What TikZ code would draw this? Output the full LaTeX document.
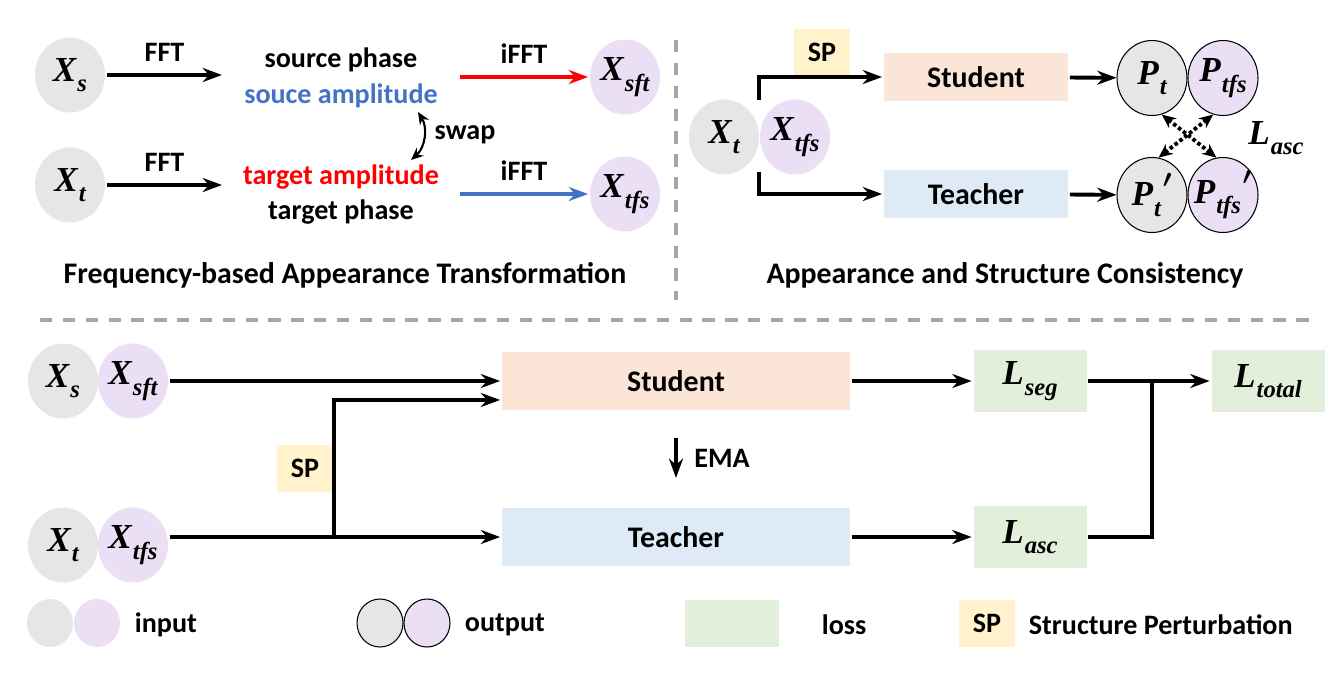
\documentclass[tikz,border=0pt]{standalone}
\usepackage{fontspec}
\setmainfont{Carlito}
\newfontfamily\symfont{Liberation Serif}
\usetikzlibrary{shapes.geometric,arrows.meta}
\definecolor{ingray}{HTML}{E6E6E6}
\definecolor{inpurple}{HTML}{EADFF5}
\definecolor{studfill}{HTML}{FBE5D6}
\definecolor{teachfill}{HTML}{DEEBF7}
\definecolor{lossfill}{HTML}{E2EFDA}
\definecolor{spfill}{HTML}{FFF2CC}
\definecolor{ampblue}{HTML}{4472C4}
\definecolor{sepgray}{HTML}{A6A6A6}
\newcommand{\sym}[2]{{\symfont\bfseries\itshape #1\kern0.03em\raisebox{-0.3em}{\fontsize{14}{14}\selectfont #2}}}
\newcommand{\symp}[2]{\makebox[0pt]{\symfont\bfseries\itshape #1\kern0.03em\raisebox{-0.3em}{\fontsize{14}{14}\selectfont #2}\kern0.05em\raisebox{0.15em}{\ensuremath{^{\boldsymbol{\prime}}}}}}
\usepackage{amsmath}
\begin{document}
\begin{tikzpicture}[x=0.02cm, y=-0.02cm, >={Stealth[length=11pt,width=8pt]}, line width=2.2pt,
  every node/.style={font=\bfseries\fontsize{16}{19}\selectfont},
  in node/.style={ellipse, minimum width=1.4cm, minimum height=1.5cm, inner sep=0pt, font=\fontsize{20}{24}\selectfont},
  out node/.style={in node, draw, line width=0.6pt},
  box/.style={rectangle, inner sep=0pt, minimum width=3.68cm, minimum height=0.96cm, font=\bfseries\fontsize{17}{20}\selectfont},
  loss box/.style={rectangle, fill=lossfill, inner sep=0pt, minimum width=2.26cm, minimum height=1.24cm, font=\fontsize{20}{24}\selectfont},
  sp box/.style={rectangle, fill=spfill, inner sep=0pt, minimum width=1.12cm, minimum height=0.94cm},
  sep/.style={sepgray, line width=2.5pt, dash pattern=on 7pt off 6pt}]
\useasboundingbox (0,0) rectangle (1339,677);

% frequency-based appearance transformation
\node[in node, fill=ingray] (xs) at (70,75) {\sym{X}{s}};
\node[in node, fill=ingray] (xt) at (70,185) {\sym{X}{t}};
\node (sphase) at (341,60) {source phase};
\node[text=ampblue] (samp) at (341,96) {souce amplitude};
\node[text=red] (tamp) at (341,177) {target amplitude};
\node (tphase) at (341,212) {target phase};
\node[in node, fill=inpurple] (xsft) at (625,77) {\sym{X}{sft}};
\node[in node, fill=inpurple] (xtfs) at (625,194) {\sym{X}{tfs}};
\coordinate (f1) at (222,75);
\coordinate (f2) at (222,185);
\coordinate (i1) at (460,77);
\coordinate (i2) at (460,194);
\draw[->] (xs) -- node[above=3pt] {FFT} (f1);
\draw[->] (xt) -- node[above=3pt] {FFT} (f2);
\draw[->, red] (i1) -- node[above=3pt, text=black] {iFFT} (xsft);
\draw[->, ampblue] (i2) -- node[above=3pt, text=black] {iFFT} (xtfs);
\coordinate (sw1) at (418,112);
\coordinate (sw2) at (411,160);
\draw[<->, >={Stealth[length=7pt,width=6pt]}, line width=1.2pt] (sw1) to[bend left=40] (sw2);
\node (swap) at (465,135) {swap};
\node (fat) at (345,275) {\fontsize{17}{20}\selectfont Frequency-based Appearance Transformation};

\draw[sep] (676,40) -- (676,300);
\draw[sep] (40,320) -- (1310,320);

% appearance and structure consistency
\node[in node, fill=ingray] (xt2) at (724,137) {\sym{X}{t}};
\node[in node, fill=inpurple] (xtfs2) at (795,137) {\sym{X}{tfs}};
\node[sp box] (sp1) at (822,52) {SP};
\node[box, fill=studfill] (stud1) at (976,77) {Student};
\node[box, fill=teachfill] (teach1) at (976,194) {Teacher};
\node[out node, fill=ingray] (pt) at (1152,78) {\sym{P}{t}};
\node[out node, fill=inpurple] (ptfs) at (1223,78) {\sym{P}{tfs}};
\node[out node, fill=ingray] (ptp) at (1152,195) {\symp{P}{t}};
\node[out node, fill=inpurple] (ptfsp) at (1223,195) {\symp{P}{tfs}};
\coordinate (up1) at (759,100);
\coordinate (dn1) at (759,172);
\draw[->] (up1) |- (stud1);
\draw[->] (dn1) |- (teach1);
\draw[->] (stud1) -- (pt);
\draw[->] (teach1) -- (ptp);
\draw[<->, >={Stealth[length=8pt,width=7pt]}, dash pattern=on 2pt off 1.5pt, line width=2.2pt] (pt.-75) -- (ptfsp.100);
\draw[<->, >={Stealth[length=8pt,width=7pt]}, dash pattern=on 2pt off 1.5pt, line width=2.2pt] (ptfs.-105) -- (ptp.80);
\node[font=\fontsize{20}{24}\selectfont] (lasc1) at (1276,138) {\sym{L}{asc}};
\node (asc) at (1005,275) {\fontsize{17}{20}\selectfont Appearance and Structure Consistency};

% training pipeline
\node[in node, fill=ingray] (xs3) at (63,381) {\sym{X}{s}};
\node[in node, fill=inpurple] (xsft3) at (133,381) {\sym{X}{sft}};
\node[in node, fill=ingray] (xt3) at (63,545) {\sym{X}{t}};
\node[in node, fill=inpurple] (xtfs3) at (133,545) {\sym{X}{tfs}};
\node[box, fill=studfill, minimum width=6.96cm, minimum height=1.16cm] (stud3) at (676,381) {Student};
\node[box, fill=teachfill, minimum width=6.96cm, minimum height=1.16cm] (teach3) at (676,537) {Teacher};
\node[sp box] (sp3) at (305,468) {SP};
\node[loss box] (lseg) at (1030,381) {\sym{L}{seg}};
\node[loss box] (lasc) at (1030,537) {\sym{L}{asc}};
\node[loss box] (ltotal) at (1268,381) {\sym{L}{total}};
\coordinate (j3) at (334,537);
\coordinate (merge) at (1152,381);
\draw[->] (xsft3) -- (stud3);
\draw[->] (xtfs3.east |- teach3) -- (teach3);
\draw[->] (j3) |- ([yshift=-10.8pt]stud3.west);
\draw[->] ([yshift=-15pt]stud3.south) -- node[right=6pt] {EMA} ([yshift=16pt]teach3.north);
\draw[->] (stud3) -- (lseg);
\draw[->] (teach3) -- (lasc);
\draw[->] (lseg) -- (ltotal);
\draw (lasc) -| (merge);

% legend
\begin{scope}[every node/.append style={inner sep=0pt}]
\node[ellipse, fill=ingray, minimum width=0.92cm, minimum height=0.96cm] (lg1) at (50,623) {};
\node[ellipse, fill=inpurple, minimum width=0.92cm, minimum height=0.96cm] (lg2) at (97,623) {};
\node[anchor=west] (lgin) at (133,625) {input};
\node[ellipse, draw, line width=0.6pt, fill=ingray, minimum width=0.92cm, minimum height=0.96cm] (lg3) at (380,623) {};
\node[ellipse, draw, line width=0.6pt, fill=inpurple, minimum width=0.92cm, minimum height=0.96cm] (lg4) at (427,623) {};
\node[anchor=west] (lgout) at (463,625) {output};
\node[rectangle, fill=lossfill, minimum width=1.9cm, minimum height=0.94cm] (lg5) at (732,623) {};
\node[anchor=west] (lgloss) at (820,625) {loss};
\node[sp box] (lg6) at (987,623) {SP};
\node[anchor=west] (lgsp) at (1027,625) {Structure Perturbation};
\end{scope}
\end{tikzpicture}
\end{document}
